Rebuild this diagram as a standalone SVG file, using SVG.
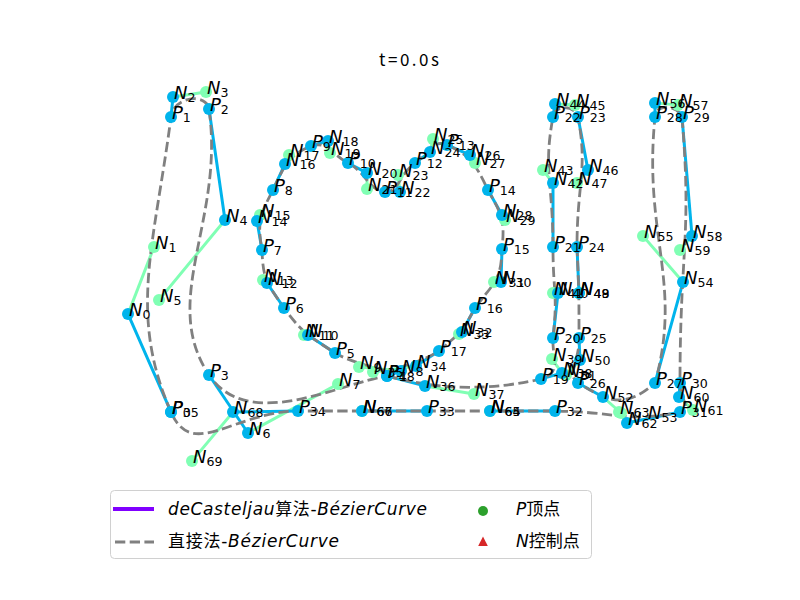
<svg xmlns="http://www.w3.org/2000/svg" width="800" height="600" viewBox="0 0 800 600">
<style>
.lc{stroke:#00b4ec;stroke-width:3;fill:none;stroke-linecap:square}
.lg{stroke:#80ffb4;stroke-width:3;fill:none;stroke-linecap:square}
.curve{stroke:#808080;stroke-width:2.8;fill:none;stroke-dasharray:10.3 4.4}
.c{fill:#00b4ec}
.g{fill:#80ffb4}
#labels text{font-family:"DejaVu Sans",sans-serif;font-size:18px;fill:#000}
.i{font-style:italic}
.s{font-size:12.6px}
.leg{font-family:"DejaVu Sans","Noto Sans CJK SC",sans-serif;font-size:17px;fill:#000}
</style>
<rect width="800" height="600" fill="#fff"/>
<text x="409" y="66" font-family="Noto Sans CJK SC, sans-serif" font-size="17" text-anchor="middle" textLength="60">t=0.0s</text>
<g id="connectors">
<g id="handles-green">
<line class="lg" x1="128" y1="314" x2="154" y2="247"/>
<line class="lg" x1="173" y1="97" x2="206" y2="92"/>
<line class="lg" x1="225" y1="220" x2="159" y2="300"/>
<line class="lg" x1="248" y1="433" x2="338" y2="384"/>
<line class="lg" x1="401" y1="371" x2="359" y2="367"/>
<line class="lg" x1="308" y1="335" x2="304" y2="335"/>
<line class="lg" x1="267" y1="283" x2="263" y2="280"/>
<line class="lg" x1="257" y1="221" x2="260" y2="215"/>
<line class="lg" x1="285" y1="164" x2="289" y2="155"/>
<line class="lg" x1="328" y1="141" x2="330" y2="153"/>
<line class="lg" x1="367" y1="173" x2="367" y2="189"/>
<line class="lg" x1="400" y1="192" x2="398" y2="175"/>
<line class="lg" x1="430" y1="152" x2="433" y2="139"/>
<line class="lg" x1="470" y1="155" x2="475" y2="163"/>
<line class="lg" x1="502" y1="215" x2="505" y2="220"/>
<line class="lg" x1="501" y1="282" x2="494" y2="282"/>
<line class="lg" x1="462" y1="332" x2="459" y2="334"/>
<line class="lg" x1="416" y1="366" x2="373" y2="372"/>
<line class="lg" x1="425" y1="386" x2="474" y2="394"/>
<line class="lg" x1="562" y1="373" x2="552" y2="359"/>
<line class="lg" x1="558" y1="293" x2="553" y2="293"/>
<line class="lg" x1="553" y1="183" x2="543" y2="170"/>
<line class="lg" x1="555" y1="104" x2="575" y2="105"/>
<line class="lg" x1="588" y1="170" x2="577" y2="183"/>
<line class="lg" x1="580" y1="360" x2="566" y2="375"/>
<line class="lg" x1="603" y1="397" x2="621" y2="413"/>
<line class="lg" x1="683" y1="282" x2="643" y2="236"/>
<line class="lg" x1="655" y1="103" x2="678" y2="105"/>
<line class="lg" x1="692" y1="236" x2="680" y2="250"/>
<line class="lg" x1="679" y1="397" x2="693" y2="410"/>
<line class="lg" x1="627" y1="423" x2="619" y2="412"/>
<line class="lg" x1="233" y1="412" x2="192" y2="461"/>
</g>
<g id="handles-cyan">
<line class="lc" x1="171" y1="412" x2="128" y2="314"/>
<line class="lc" x1="171" y1="117" x2="173" y2="97"/>
<line class="lc" x1="209" y1="109" x2="225" y2="220"/>
<line class="lc" x1="209" y1="375" x2="248" y2="433"/>
<line class="lc" x1="387" y1="376" x2="401" y2="371"/>
<line class="lc" x1="335" y1="353" x2="308" y2="335"/>
<line class="lc" x1="284" y1="308" x2="267" y2="283"/>
<line class="lc" x1="262" y1="250" x2="257" y2="221"/>
<line class="lc" x1="273" y1="190" x2="285" y2="164"/>
<line class="lc" x1="311" y1="146" x2="328" y2="141"/>
<line class="lc" x1="348" y1="163" x2="367" y2="173"/>
<line class="lc" x1="385" y1="192" x2="400" y2="192"/>
<line class="lc" x1="415" y1="163" x2="430" y2="152"/>
<line class="lc" x1="447" y1="145" x2="470" y2="155"/>
<line class="lc" x1="488" y1="190" x2="502" y2="215"/>
<line class="lc" x1="502" y1="249" x2="501" y2="282"/>
<line class="lc" x1="475" y1="308" x2="462" y2="332"/>
<line class="lc" x1="439" y1="351" x2="416" y2="366"/>
<line class="lc" x1="387" y1="376" x2="425" y2="386"/>
<line class="lc" x1="541" y1="379" x2="562" y2="373"/>
<line class="lc" x1="553" y1="338" x2="558" y2="293"/>
<line class="lc" x1="553" y1="247" x2="553" y2="183"/>
<line class="lc" x1="553" y1="117" x2="555" y2="104"/>
<line class="lc" x1="578" y1="117" x2="588" y2="170"/>
<line class="lc" x1="577" y1="247" x2="579" y2="293"/>
<line class="lc" x1="579" y1="338" x2="580" y2="360"/>
<line class="lc" x1="578" y1="383" x2="603" y2="397"/>
<line class="lc" x1="655" y1="383" x2="683" y2="282"/>
<line class="lc" x1="655" y1="117" x2="655" y2="103"/>
<line class="lc" x1="682" y1="117" x2="692" y2="236"/>
<line class="lc" x1="680" y1="383" x2="679" y2="397"/>
<line class="lc" x1="680" y1="412" x2="627" y2="423"/>
<line class="lc" x1="555" y1="411" x2="490" y2="411"/>
<line class="lc" x1="427" y1="411" x2="362" y2="411"/>
<line class="lc" x1="298" y1="411" x2="233" y2="412"/>
</g>
<path id="bezier-direct" class="curve" d="M171,412 C128,314 154,247 171,117 C173,97 206,92 209,109 C225,220 159,300 209,375 C248,433 338,384 387,376 C401,371 359,367 335,353 C308,335 304,335 284,308 C267,283 263,280 262,250 C257,221 260,215 273,190 C285,164 289,155 311,146 C328,141 330,153 348,163 C367,173 367,189 385,192 C400,192 398,175 415,163 C430,152 433,139 447,145 C470,155 475,163 488,190 C502,215 505,220 502,249 C501,282 494,282 475,308 C462,332 459,334 439,351 C416,366 373,372 387,376 C425,386 474,394 541,379 C562,373 552,359 553,338 C558,293 553,293 553,247 C553,183 543,170 553,117 C555,104 575,105 578,117 C588,170 577,183 577,247 C579,293 579,293 579,338 C580,360 566,375 578,383 C603,397 621,413 655,383 C683,282 643,236 655,117 C655,103 678,105 682,117 C692,236 680,250 680,383 C679,397 693,410 680,412 C627,423 619,412 555,411 C490,411 490,411 427,411 C362,411 362,411 298,411 C233,412 192,461 171,412"/>
</g>
<g id="nodes">
<g id="N1"><circle class="g" cx="154" cy="247" r="6"/></g>
<g id="N3"><circle class="g" cx="206" cy="92" r="6"/></g>
<g id="N5"><circle class="g" cx="159" cy="300" r="6"/></g>
<g id="N7"><circle class="g" cx="338" cy="384" r="6"/></g>
<g id="N9"><circle class="g" cx="359" cy="367" r="6"/></g>
<g id="N11"><circle class="g" cx="304" cy="335" r="6"/></g>
<g id="N13"><circle class="g" cx="263" cy="280" r="6"/></g>
<g id="N15"><circle class="g" cx="260" cy="215" r="6"/></g>
<g id="N17"><circle class="g" cx="289" cy="155" r="6"/></g>
<g id="N19"><circle class="g" cx="330" cy="153" r="6"/></g>
<g id="N21"><circle class="g" cx="367" cy="189" r="6"/></g>
<g id="N23"><circle class="g" cx="398" cy="175" r="6"/></g>
<g id="N25"><circle class="g" cx="433" cy="139" r="6"/></g>
<g id="N27"><circle class="g" cx="475" cy="163" r="6"/></g>
<g id="N29"><circle class="g" cx="505" cy="220" r="6"/></g>
<g id="N31"><circle class="g" cx="494" cy="282" r="6"/></g>
<g id="N33"><circle class="g" cx="459" cy="334" r="6"/></g>
<g id="N35"><circle class="g" cx="373" cy="372" r="6"/></g>
<g id="N37"><circle class="g" cx="474" cy="394" r="6"/></g>
<g id="N39"><circle class="g" cx="552" cy="359" r="6"/></g>
<g id="N41"><circle class="g" cx="553" cy="293" r="6"/></g>
<g id="N43"><circle class="g" cx="543" cy="170" r="6"/></g>
<g id="N45"><circle class="g" cx="575" cy="105" r="6"/></g>
<g id="N47"><circle class="g" cx="577" cy="183" r="6"/></g>
<g id="N49"><circle class="g" cx="579" cy="293" r="6"/></g>
<g id="N51"><circle class="g" cx="566" cy="375" r="6"/></g>
<g id="N53"><circle class="g" cx="621" cy="413" r="6"/></g>
<g id="N55"><circle class="g" cx="643" cy="236" r="6"/></g>
<g id="N57"><circle class="g" cx="678" cy="105" r="6"/></g>
<g id="N59"><circle class="g" cx="680" cy="250" r="6"/></g>
<g id="N61"><circle class="g" cx="693" cy="410" r="6"/></g>
<g id="N63"><circle class="g" cx="619" cy="412" r="6"/></g>
<g id="N65"><circle class="g" cx="490" cy="411" r="6"/></g>
<g id="N67"><circle class="g" cx="362" cy="411" r="6"/></g>
<g id="N69"><circle class="g" cx="192" cy="461" r="6"/></g>
<g id="N0"><circle class="c" cx="128" cy="314" r="6"/></g>
<g id="N2"><circle class="c" cx="173" cy="97" r="6"/></g>
<g id="N4"><circle class="c" cx="225" cy="220" r="6"/></g>
<g id="N6"><circle class="c" cx="248" cy="433" r="6"/></g>
<g id="N8"><circle class="c" cx="401" cy="371" r="6"/></g>
<g id="N10"><circle class="c" cx="308" cy="335" r="6"/></g>
<g id="N12"><circle class="c" cx="267" cy="283" r="6"/></g>
<g id="N14"><circle class="c" cx="257" cy="221" r="6"/></g>
<g id="N16"><circle class="c" cx="285" cy="164" r="6"/></g>
<g id="N18"><circle class="c" cx="328" cy="141" r="6"/></g>
<g id="N20"><circle class="c" cx="367" cy="173" r="6"/></g>
<g id="N22"><circle class="c" cx="400" cy="192" r="6"/></g>
<g id="N24"><circle class="c" cx="430" cy="152" r="6"/></g>
<g id="N26"><circle class="c" cx="470" cy="155" r="6"/></g>
<g id="N28"><circle class="c" cx="502" cy="215" r="6"/></g>
<g id="N30"><circle class="c" cx="501" cy="282" r="6"/></g>
<g id="N32"><circle class="c" cx="462" cy="332" r="6"/></g>
<g id="N34"><circle class="c" cx="416" cy="366" r="6"/></g>
<g id="N36"><circle class="c" cx="425" cy="386" r="6"/></g>
<g id="N38"><circle class="c" cx="562" cy="373" r="6"/></g>
<g id="N40"><circle class="c" cx="558" cy="293" r="6"/></g>
<g id="N42"><circle class="c" cx="553" cy="183" r="6"/></g>
<g id="N44"><circle class="c" cx="555" cy="104" r="6"/></g>
<g id="N46"><circle class="c" cx="588" cy="170" r="6"/></g>
<g id="N48"><circle class="c" cx="579" cy="293" r="6"/></g>
<g id="N50"><circle class="c" cx="580" cy="360" r="6"/></g>
<g id="N52"><circle class="c" cx="603" cy="397" r="6"/></g>
<g id="N54"><circle class="c" cx="683" cy="282" r="6"/></g>
<g id="N56"><circle class="c" cx="655" cy="103" r="6"/></g>
<g id="N58"><circle class="c" cx="692" cy="236" r="6"/></g>
<g id="N60"><circle class="c" cx="679" cy="397" r="6"/></g>
<g id="N62"><circle class="c" cx="627" cy="423" r="6"/></g>
<g id="N64"><circle class="c" cx="490" cy="411" r="6"/></g>
<g id="N66"><circle class="c" cx="362" cy="411" r="6"/></g>
<g id="N68"><circle class="c" cx="233" cy="412" r="6"/></g>
<g id="P0"><circle class="c" cx="171" cy="412" r="6"/></g>
<g id="P1"><circle class="c" cx="171" cy="117" r="6"/></g>
<g id="P2"><circle class="c" cx="209" cy="109" r="6"/></g>
<g id="P3"><circle class="c" cx="209" cy="375" r="6"/></g>
<g id="P4"><circle class="c" cx="387" cy="376" r="6"/></g>
<g id="P5"><circle class="c" cx="335" cy="353" r="6"/></g>
<g id="P6"><circle class="c" cx="284" cy="308" r="6"/></g>
<g id="P7"><circle class="c" cx="262" cy="250" r="6"/></g>
<g id="P8"><circle class="c" cx="273" cy="190" r="6"/></g>
<g id="P9"><circle class="c" cx="311" cy="146" r="6"/></g>
<g id="P10"><circle class="c" cx="348" cy="163" r="6"/></g>
<g id="P11"><circle class="c" cx="385" cy="192" r="6"/></g>
<g id="P12"><circle class="c" cx="415" cy="163" r="6"/></g>
<g id="P13"><circle class="c" cx="447" cy="145" r="6"/></g>
<g id="P14"><circle class="c" cx="488" cy="190" r="6"/></g>
<g id="P15"><circle class="c" cx="502" cy="249" r="6"/></g>
<g id="P16"><circle class="c" cx="475" cy="308" r="6"/></g>
<g id="P17"><circle class="c" cx="439" cy="351" r="6"/></g>
<g id="P18"><circle class="c" cx="387" cy="376" r="6"/></g>
<g id="P19"><circle class="c" cx="541" cy="379" r="6"/></g>
<g id="P20"><circle class="c" cx="553" cy="338" r="6"/></g>
<g id="P21"><circle class="c" cx="553" cy="247" r="6"/></g>
<g id="P22"><circle class="c" cx="553" cy="117" r="6"/></g>
<g id="P23"><circle class="c" cx="578" cy="117" r="6"/></g>
<g id="P24"><circle class="c" cx="577" cy="247" r="6"/></g>
<g id="P25"><circle class="c" cx="579" cy="338" r="6"/></g>
<g id="P26"><circle class="c" cx="578" cy="383" r="6"/></g>
<g id="P27"><circle class="c" cx="655" cy="383" r="6"/></g>
<g id="P28"><circle class="c" cx="655" cy="117" r="6"/></g>
<g id="P29"><circle class="c" cx="682" cy="117" r="6"/></g>
<g id="P30"><circle class="c" cx="680" cy="383" r="6"/></g>
<g id="P31"><circle class="c" cx="680" cy="412" r="6"/></g>
<g id="P32"><circle class="c" cx="555" cy="411" r="6"/></g>
<g id="P33"><circle class="c" cx="427" cy="411" r="6"/></g>
<g id="P34"><circle class="c" cx="298" cy="411" r="6"/></g>
<g id="P35"><circle class="c" cx="171" cy="412" r="6"/></g>
</g>
<g id="labels">
<text x="129" y="316"><tspan class="i">N</tspan><tspan class="s" dy="3">0</tspan></text>
<text x="155" y="249"><tspan class="i">N</tspan><tspan class="s" dy="3">1</tspan></text>
<text x="174" y="99"><tspan class="i">N</tspan><tspan class="s" dy="3">2</tspan></text>
<text x="207" y="94"><tspan class="i">N</tspan><tspan class="s" dy="3">3</tspan></text>
<text x="226" y="222"><tspan class="i">N</tspan><tspan class="s" dy="3">4</tspan></text>
<text x="160" y="302"><tspan class="i">N</tspan><tspan class="s" dy="3">5</tspan></text>
<text x="249" y="435"><tspan class="i">N</tspan><tspan class="s" dy="3">6</tspan></text>
<text x="339" y="386"><tspan class="i">N</tspan><tspan class="s" dy="3">7</tspan></text>
<text x="402" y="373"><tspan class="i">N</tspan><tspan class="s" dy="3">8</tspan></text>
<text x="360" y="369"><tspan class="i">N</tspan><tspan class="s" dy="3">9</tspan></text>
<text x="309" y="337"><tspan class="i">N</tspan><tspan class="s" dy="3">10</tspan></text>
<text x="305" y="337"><tspan class="i">N</tspan><tspan class="s" dy="3">11</tspan></text>
<text x="268" y="285"><tspan class="i">N</tspan><tspan class="s" dy="3">12</tspan></text>
<text x="264" y="282"><tspan class="i">N</tspan><tspan class="s" dy="3">13</tspan></text>
<text x="258" y="223"><tspan class="i">N</tspan><tspan class="s" dy="3">14</tspan></text>
<text x="261" y="217"><tspan class="i">N</tspan><tspan class="s" dy="3">15</tspan></text>
<text x="286" y="166"><tspan class="i">N</tspan><tspan class="s" dy="3">16</tspan></text>
<text x="290" y="157"><tspan class="i">N</tspan><tspan class="s" dy="3">17</tspan></text>
<text x="329" y="143"><tspan class="i">N</tspan><tspan class="s" dy="3">18</tspan></text>
<text x="331" y="155"><tspan class="i">N</tspan><tspan class="s" dy="3">19</tspan></text>
<text x="368" y="175"><tspan class="i">N</tspan><tspan class="s" dy="3">20</tspan></text>
<text x="368" y="191"><tspan class="i">N</tspan><tspan class="s" dy="3">21</tspan></text>
<text x="401" y="194"><tspan class="i">N</tspan><tspan class="s" dy="3">22</tspan></text>
<text x="399" y="177"><tspan class="i">N</tspan><tspan class="s" dy="3">23</tspan></text>
<text x="431" y="154"><tspan class="i">N</tspan><tspan class="s" dy="3">24</tspan></text>
<text x="434" y="141"><tspan class="i">N</tspan><tspan class="s" dy="3">25</tspan></text>
<text x="471" y="157"><tspan class="i">N</tspan><tspan class="s" dy="3">26</tspan></text>
<text x="476" y="165"><tspan class="i">N</tspan><tspan class="s" dy="3">27</tspan></text>
<text x="503" y="217"><tspan class="i">N</tspan><tspan class="s" dy="3">28</tspan></text>
<text x="506" y="222"><tspan class="i">N</tspan><tspan class="s" dy="3">29</tspan></text>
<text x="502" y="284"><tspan class="i">N</tspan><tspan class="s" dy="3">30</tspan></text>
<text x="495" y="284"><tspan class="i">N</tspan><tspan class="s" dy="3">31</tspan></text>
<text x="463" y="334"><tspan class="i">N</tspan><tspan class="s" dy="3">32</tspan></text>
<text x="460" y="336"><tspan class="i">N</tspan><tspan class="s" dy="3">33</tspan></text>
<text x="417" y="368"><tspan class="i">N</tspan><tspan class="s" dy="3">34</tspan></text>
<text x="374" y="374"><tspan class="i">N</tspan><tspan class="s" dy="3">35</tspan></text>
<text x="426" y="388"><tspan class="i">N</tspan><tspan class="s" dy="3">36</tspan></text>
<text x="475" y="396"><tspan class="i">N</tspan><tspan class="s" dy="3">37</tspan></text>
<text x="563" y="375"><tspan class="i">N</tspan><tspan class="s" dy="3">38</tspan></text>
<text x="553" y="361"><tspan class="i">N</tspan><tspan class="s" dy="3">39</tspan></text>
<text x="559" y="295"><tspan class="i">N</tspan><tspan class="s" dy="3">40</tspan></text>
<text x="554" y="295"><tspan class="i">N</tspan><tspan class="s" dy="3">41</tspan></text>
<text x="554" y="185"><tspan class="i">N</tspan><tspan class="s" dy="3">42</tspan></text>
<text x="544" y="172"><tspan class="i">N</tspan><tspan class="s" dy="3">43</tspan></text>
<text x="556" y="106"><tspan class="i">N</tspan><tspan class="s" dy="3">44</tspan></text>
<text x="576" y="107"><tspan class="i">N</tspan><tspan class="s" dy="3">45</tspan></text>
<text x="589" y="172"><tspan class="i">N</tspan><tspan class="s" dy="3">46</tspan></text>
<text x="578" y="185"><tspan class="i">N</tspan><tspan class="s" dy="3">47</tspan></text>
<text x="580" y="295"><tspan class="i">N</tspan><tspan class="s" dy="3">48</tspan></text>
<text x="580" y="295"><tspan class="i">N</tspan><tspan class="s" dy="3">49</tspan></text>
<text x="581" y="362"><tspan class="i">N</tspan><tspan class="s" dy="3">50</tspan></text>
<text x="567" y="377"><tspan class="i">N</tspan><tspan class="s" dy="3">51</tspan></text>
<text x="604" y="399"><tspan class="i">N</tspan><tspan class="s" dy="3">52</tspan></text>
<text x="648" y="419"><tspan class="i">N</tspan><tspan class="s" dy="3">53</tspan></text>
<text x="684" y="284"><tspan class="i">N</tspan><tspan class="s" dy="3">54</tspan></text>
<text x="644" y="238"><tspan class="i">N</tspan><tspan class="s" dy="3">55</tspan></text>
<text x="656" y="105"><tspan class="i">N</tspan><tspan class="s" dy="3">56</tspan></text>
<text x="679" y="107"><tspan class="i">N</tspan><tspan class="s" dy="3">57</tspan></text>
<text x="693" y="238"><tspan class="i">N</tspan><tspan class="s" dy="3">58</tspan></text>
<text x="681" y="252"><tspan class="i">N</tspan><tspan class="s" dy="3">59</tspan></text>
<text x="680" y="399"><tspan class="i">N</tspan><tspan class="s" dy="3">60</tspan></text>
<text x="694" y="412"><tspan class="i">N</tspan><tspan class="s" dy="3">61</tspan></text>
<text x="628" y="425"><tspan class="i">N</tspan><tspan class="s" dy="3">62</tspan></text>
<text x="620" y="414"><tspan class="i">N</tspan><tspan class="s" dy="3">63</tspan></text>
<text x="491" y="413"><tspan class="i">N</tspan><tspan class="s" dy="3">64</tspan></text>
<text x="491" y="413"><tspan class="i">N</tspan><tspan class="s" dy="3">65</tspan></text>
<text x="363" y="413"><tspan class="i">N</tspan><tspan class="s" dy="3">66</tspan></text>
<text x="363" y="413"><tspan class="i">N</tspan><tspan class="s" dy="3">67</tspan></text>
<text x="234" y="414"><tspan class="i">N</tspan><tspan class="s" dy="3">68</tspan></text>
<text x="193" y="463"><tspan class="i">N</tspan><tspan class="s" dy="3">69</tspan></text>
<text x="172" y="414"><tspan class="i">P</tspan><tspan class="s" dy="3">0</tspan></text>
<text x="172" y="119"><tspan class="i">P</tspan><tspan class="s" dy="3">1</tspan></text>
<text x="210" y="111"><tspan class="i">P</tspan><tspan class="s" dy="3">2</tspan></text>
<text x="210" y="377"><tspan class="i">P</tspan><tspan class="s" dy="3">3</tspan></text>
<text x="388" y="378"><tspan class="i">P</tspan><tspan class="s" dy="3">4</tspan></text>
<text x="336" y="355"><tspan class="i">P</tspan><tspan class="s" dy="3">5</tspan></text>
<text x="285" y="310"><tspan class="i">P</tspan><tspan class="s" dy="3">6</tspan></text>
<text x="263" y="252"><tspan class="i">P</tspan><tspan class="s" dy="3">7</tspan></text>
<text x="274" y="192"><tspan class="i">P</tspan><tspan class="s" dy="3">8</tspan></text>
<text x="312" y="148"><tspan class="i">P</tspan><tspan class="s" dy="3">9</tspan></text>
<text x="349" y="165"><tspan class="i">P</tspan><tspan class="s" dy="3">10</tspan></text>
<text x="386" y="194"><tspan class="i">P</tspan><tspan class="s" dy="3">11</tspan></text>
<text x="416" y="165"><tspan class="i">P</tspan><tspan class="s" dy="3">12</tspan></text>
<text x="448" y="147"><tspan class="i">P</tspan><tspan class="s" dy="3">13</tspan></text>
<text x="489" y="192"><tspan class="i">P</tspan><tspan class="s" dy="3">14</tspan></text>
<text x="503" y="251"><tspan class="i">P</tspan><tspan class="s" dy="3">15</tspan></text>
<text x="476" y="310"><tspan class="i">P</tspan><tspan class="s" dy="3">16</tspan></text>
<text x="440" y="353"><tspan class="i">P</tspan><tspan class="s" dy="3">17</tspan></text>
<text x="388" y="378"><tspan class="i">P</tspan><tspan class="s" dy="3">18</tspan></text>
<text x="542" y="381"><tspan class="i">P</tspan><tspan class="s" dy="3">19</tspan></text>
<text x="554" y="340"><tspan class="i">P</tspan><tspan class="s" dy="3">20</tspan></text>
<text x="554" y="249"><tspan class="i">P</tspan><tspan class="s" dy="3">21</tspan></text>
<text x="554" y="119"><tspan class="i">P</tspan><tspan class="s" dy="3">22</tspan></text>
<text x="579" y="119"><tspan class="i">P</tspan><tspan class="s" dy="3">23</tspan></text>
<text x="578" y="249"><tspan class="i">P</tspan><tspan class="s" dy="3">24</tspan></text>
<text x="580" y="340"><tspan class="i">P</tspan><tspan class="s" dy="3">25</tspan></text>
<text x="579" y="385"><tspan class="i">P</tspan><tspan class="s" dy="3">26</tspan></text>
<text x="656" y="385"><tspan class="i">P</tspan><tspan class="s" dy="3">27</tspan></text>
<text x="656" y="119"><tspan class="i">P</tspan><tspan class="s" dy="3">28</tspan></text>
<text x="683" y="119"><tspan class="i">P</tspan><tspan class="s" dy="3">29</tspan></text>
<text x="681" y="385"><tspan class="i">P</tspan><tspan class="s" dy="3">30</tspan></text>
<text x="681" y="414"><tspan class="i">P</tspan><tspan class="s" dy="3">31</tspan></text>
<text x="556" y="413"><tspan class="i">P</tspan><tspan class="s" dy="3">32</tspan></text>
<text x="428" y="413"><tspan class="i">P</tspan><tspan class="s" dy="3">33</tspan></text>
<text x="299" y="413"><tspan class="i">P</tspan><tspan class="s" dy="3">34</tspan></text>
<text x="172" y="414"><tspan class="i">P</tspan><tspan class="s" dy="3">35</tspan></text>
</g>
<g id="legend">
<rect x="110.5" y="490.5" width="481" height="68" rx="4" fill="#fff" fill-opacity="0.8" stroke="#d0d0d0" stroke-width="1"/>
<line x1="113" y1="509" x2="154" y2="509" stroke="#8000ff" stroke-width="4.2"/>
<text class="leg" x="168" y="515" textLength="259"><tspan class="i">deCasteljau</tspan>算法-<tspan class="i">BézierCurve</tspan></text>
<line x1="115" y1="542" x2="154" y2="542" stroke="#808080" stroke-width="2.8" stroke-dasharray="10.3 4.4"/>
<text class="leg" x="168" y="547" textLength="171">直接法-<tspan class="i">BézierCurve</tspan></text>
<circle cx="483" cy="511" r="5" fill="#2ca02c"/>
<text class="leg" x="516" y="515"><tspan class="i">P</tspan>顶点</text>
<polygon points="483,536.5 487.8,546 478.2,546" fill="#d62728"/>
<text class="leg" x="516" y="547"><tspan class="i">N</tspan>控制点</text>
</g>
</svg>
